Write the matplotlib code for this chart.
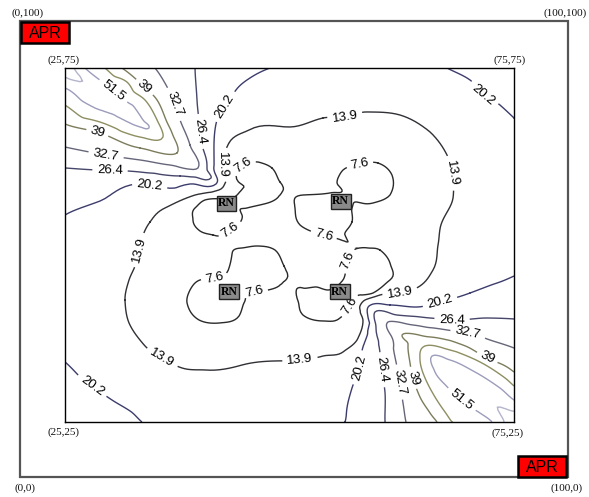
import numpy as np
import matplotlib
matplotlib.use("Agg")
import matplotlib.pyplot as plt
import matplotlib.tri as mtri
from matplotlib.patches import Rectangle

# ---------------- data (chart units, inner square 25..75) ----------------
levels = [7.6, 13.9, 20.2, 26.4, 32.7, 39.0, 45.2, 51.5, 57.8]
level_colors = ["#2a2a2a", "#303036", "#3c3c6c", "#46466a", "#66667a",
                "#7c7c5c", "#8e8e62", "#9c9cbc", "#b4b4cc"]

rn_x = [43.0, 55.7, 43.3, 55.6]
rn_y = [55.9, 56.2, 43.4, 43.4]
rn_val = [7.2, 7.2, 7.2, 7.2]

corner_x = [25.0, 75.0, 75.0, 25.0]
corner_y = [75.0, 75.0, 25.0, 25.0]
corner_val = [62.0, 23.0, 62.0, 23.0]

# points read on the contour lines
c76_x = [44.04, 45.04, 46.49, 48.05, 48.94, 48.83, 47.16, 45.27,
         42.26, 40.59, 39.48, 39.25, 40.03, 41.48, 43.37, 44.60, 44.49,
         55.85, 55.40, 55.96, 57.85, 59.86, 61.41, 61.19, 59.30, 57.52,
         54.51, 51.50, 50.61, 51.17, 52.84, 54.51, 56.18, 56.96, 56.96,
         43.26, 43.60, 44.71, 46.49, 48.39, 49.39, 48.94, 46.94, 45.38,
         41.59, 40.03, 38.92, 38.59, 39.92, 42.15, 44.38, 44.93,
         56.18, 56.63, 57.41, 58.74, 60.08, 61.19, 61.19, 59.30, 57.52,
         54.29, 52.84, 51.50, 50.95, 51.50, 53.73, 55.62, 56.74]
c76_y = [59.75, 61.44, 61.72, 60.88, 58.90, 56.92, 55.79, 55.23,
         56.50, 56.36, 55.23, 53.53, 51.98, 51.41, 51.98, 53.39, 54.94,
         57.77, 59.46, 60.59, 61.44, 61.58, 59.89, 57.06, 55.93, 56.07,
         57.35, 57.06, 55.23, 52.83, 51.70, 51.13, 51.41, 53.25, 55.23,
         46.75, 48.73, 49.58, 49.86, 49.29, 47.03, 44.35, 43.50, 43.22,
         45.34, 45.06, 43.64, 41.81, 39.41, 38.98, 39.97, 41.81,
         45.76, 48.16, 49.44, 49.58, 49.29, 47.46, 45.06, 43.22, 42.80,
         43.64, 44.07, 43.93, 42.09, 40.11, 39.27, 39.69, 41.38]

c139_x = [43.26, 45.49, 50.06, 53.73, 56.18, 58.63, 62.31, 65.65, 67.54, 68.10,
          68.21, 66.98, 66.54, 65.98, 64.53, 62.31, 59.74, 58.41, 58.18, 57.52,
          55.96, 53.73, 51.17, 48.39, 44.71, 40.59, 38.03, 35.80, 33.91, 32.13,
          31.68, 32.13, 32.80, 33.24, 33.57, 34.47, 36.14, 39.48, 42.37, 42.48]
c139_y = [64.41, 66.24, 66.67, 67.94, 68.08, 68.79, 68.36, 65.96, 62.71, 60.17,
          56.64, 53.25, 50.00, 46.47, 44.21, 43.22, 42.80, 42.23, 39.41, 36.58,
          34.89, 34.32, 33.76, 33.62, 33.05, 32.35, 32.63, 34.04, 35.74, 38.98,
          42.23, 45.06, 47.03, 49.29, 50.99, 53.25, 55.23, 57.06, 57.91, 61.30]

c202_x = [47.83, 45.60, 44.04, 43.26, 41.93, 41.59, 41.59, 41.82, 38.92, 33.35, 28.90, 25.0,
          75.0, 73.11, 70.10, 66.76, 64.20, 61.19, 58.85, 58.74, 58.18, 57.85, 56.96, 56.40, 56.18,
          67.54, 70.10, 71.55, 73.44, 75.0,
          25.0, 26.56, 28.01, 30.23, 32.24, 33.57]
c202_y = [75.0, 73.59, 71.89, 70.48, 67.66, 64.12, 60.59, 58.62, 58.62, 58.62, 56.21, 54.24,
          45.62, 44.63, 43.22, 41.95, 41.24, 41.53, 41.38, 39.83, 35.59, 32.63, 29.80, 26.98, 25.0,
          75.0, 73.31, 71.19, 69.77, 67.94,
          33.48, 31.50, 30.09, 28.11, 26.56, 25.0]

c264_x = [39.48, 39.70, 39.92, 40.26, 40.81, 41.26, 37.81, 33.35, 28.90, 25.0,
          75.0, 72.00, 68.10, 65.65, 61.97, 59.52, 59.63, 60.08, 60.30, 60.64, 60.64]
c264_y = [75.0, 70.48, 67.66, 64.12, 61.30, 59.46, 59.75, 60.31, 60.59, 60.88,
          39.55, 39.69, 39.41, 39.69, 40.11, 40.54, 38.42, 34.75, 32.35, 29.10, 25.0]

c327_x = [35.02, 36.25, 37.03, 37.81, 38.92, 39.81, 36.69, 33.35, 28.90, 25.0,
          75.0, 72.33, 69.88, 67.54, 63.75, 60.97, 61.52, 61.97, 62.31, 62.64, 62.97]
c327_y = [75.0, 72.60, 70.48, 67.66, 64.12, 60.88, 61.30, 62.01, 62.85, 63.84,
          35.45, 36.58, 37.57, 38.00, 38.70, 39.13, 36.58, 32.77, 30.65, 27.68, 25.0]

c390_x = [31.35, 33.57, 35.25, 36.25, 36.92, 37.47, 33.35, 28.90, 25.0,
          75.0, 74.22, 71.99, 69.32, 65.65, 62.53, 63.20, 63.42, 63.75, 64.53, 65.65, 66.43]
c390_y = [75.0, 72.60, 70.48, 67.66, 65.82, 62.99, 63.70, 65.82, 67.09,
          32.06, 32.77, 34.04, 35.87, 37.01, 37.29, 35.87, 33.33, 31.22, 28.53, 26.27, 25.0]

c452_x = [29.45, 31.90, 33.91, 35.25, 35.91, 33.35, 28.90, 25.0,
          75.0, 74.00, 71.21, 67.87, 65.09, 64.53, 65.09, 66.20, 67.32, 68.10]
c452_y = [75.0, 73.02, 70.48, 67.66, 65.25, 65.25, 67.37, 69.77,
          30.09, 31.22, 33.48, 35.17, 35.74, 33.76, 31.22, 28.53, 26.41, 25.0]

c515_x = [27.23, 29.45, 31.68, 33.69, 34.35, 33.35, 28.90, 25.0,
          75.0, 73.44, 70.66, 67.87, 65.87, 66.20, 67.87, 69.32, 71.21, 72.55]
c515_y = [75.0, 72.74, 70.48, 67.66, 66.53, 66.67, 69.07, 72.18,
          28.11, 29.80, 32.06, 33.76, 34.32, 32.06, 29.52, 27.83, 26.27, 25.0]

# other values read between the lines
extra_x = [51.17, 62.31, 71.21, 71.77, 28.90, 28.90, 38.92, 50.06, 45.60, 30.01, 70.10, 53.40,
           57.85, 75.0, 25.0, 44.49,
           26.11, 28.90, 31.68, 70.10, 72.88, 67.87,
           46.72, 41.82, 58.63, 53.73, 46.72, 41.70, 58.96, 53.62,
           49.72, 49.50, 49.50, 37.81, 62.31, 46.16, 53.40, 58.96, 40.59, 45.60, 52.84]
extra_y = [71.61, 72.18, 62.01, 52.12, 44.35, 37.99, 28.11, 28.81, 70.48, 52.83, 49.29, 29.52,
           75.0, 56.36, 43.64, 25.0,
           73.87, 71.47, 69.07, 30.23, 27.40, 32.06,
           58.33, 54.24, 58.76, 54.38, 46.75, 41.95, 46.19, 41.81,
           50.00, 61.30, 37.99, 49.29, 50.00, 52.40, 59.89, 52.83, 47.88, 40.11, 47.18]
extra_val = [16.5, 17.0, 17.0, 17.0, 16.5, 17.5, 16.5, 16.5, 17.0, 17.0, 17.5, 16.8,
             16.8, 16.8, 16.3, 16.3,
             59.0, 56.0, 53.5, 55.0, 57.5, 53.5,
             5.5, 5.5, 5.5, 5.5, 5.5, 5.5, 5.5, 5.5,
             9.0, 10.5, 10.5, 10.5, 10.5, 9.0, 10.0, 10.0, 10.0, 10.0, 9.0]

# contour label positions (level labels placed on lines)
label_x = [29.79, 33.57, 36.92, 39.48, 43.04, 42.71, 44.82, 28.56, 29.57, 30.01, 34.47, 43.37,
           56.18, 71.55, 68.10, 57.85, 53.73,
           33.24, 35.80, 28.01, 41.59, 46.16,
           56.40, 56.74, 62.31, 66.76, 68.10, 69.88, 71.99, 69.32, 57.85, 60.08, 62.31, 63.75, 51.17]
label_y = [70.76, 71.89, 69.77, 65.96, 69.35, 61.30, 61.30, 65.68, 62.71, 60.45, 58.76, 52.12,
           68.08, 71.19, 60.17, 61.30, 50.99,
           49.29, 34.04, 30.09, 45.62, 42.94,
           47.88, 41.38, 43.22, 41.95, 39.41, 37.57, 34.04, 28.39, 32.63, 32.35, 30.65, 31.22, 33.76]

frame_labels = ["(0,100)", "(100,100)", "(25,75)", "(75,75)",
                "(25,25)", "(75,25)", "(0,0)", "(100,0)"]
apr_label = "APR"
rn_label = "RN"

# ---------------- assemble field samples ----------------
xs, ys, zs = [], [], []
for lx, ly, lv in [(c76_x, c76_y, 7.6), (c139_x, c139_y, 13.9), (c202_x, c202_y, 20.2),
                   (c264_x, c264_y, 26.4), (c327_x, c327_y, 32.7), (c390_x, c390_y, 39.0),
                   (c452_x, c452_y, 45.2), (c515_x, c515_y, 51.5)]:
    xs += lx
    ys += ly
    zs += [lv] * len(lx)
xs += rn_x + corner_x + extra_x
ys += rn_y + corner_y + extra_y
zs += rn_val + corner_val + extra_val
xs, ys, zs = np.array(xs), np.array(ys), np.array(zs)

tri = mtri.Triangulation(xs, ys)
interp = mtri.CubicTriInterpolator(tri, zs, kind="geom")
refiner = mtri.UniformTriRefiner(tri)
tri_r, z_r = refiner.refine_field(zs, triinterpolator=interp, subdiv=3)

# ---------------- figure ----------------
W, H = 589, 497
fig = plt.figure(figsize=(W / 100, H / 100), dpi=100)
fig.patch.set_facecolor("white")

# overlay in pixel units for the frame
ax0 = fig.add_axes([0, 0, 1, 1])
ax0.set_xlim(0, W)
ax0.set_ylim(H, 0)
ax0.axis("off")
ax0.add_patch(Rectangle((20, 21), 548, 456, fill=False, ec="#555555", lw=1.6))

serif = ["Liberation Serif", "DejaVu Serif"]
pos = [(28, 13), (565, 13), (64, 60), (510, 60), (63, 432), (508, 433), (25, 488), (567, 488)]
for t, (px, py) in zip(frame_labels, pos):
    ax0.text(px, py, t, ha="center", va="center", fontsize=8, family=serif, color="#111111")

for (bx, by) in [(21, 22), (518, 456)]:
    ax0.add_patch(Rectangle((bx, by), 48, 21, fc="#ff0000", ec="black", lw=1.8, zorder=5))
    ax0.text(bx + 24, by + 11, apr_label, ha="center", va="center", fontsize=11.5,
             family=["Liberation Sans", "DejaVu Sans"], color="black", zorder=6)

# inner contour axes
ax = fig.add_axes([65 / W, (H - 422) / H, 449 / W, 354 / H])
ax.set_xlim(25, 75)
ax.set_ylim(25, 75)
ax.set_xticks([])
ax.set_yticks([])
for s in ax.spines.values():
    s.set_color("black")
    s.set_linewidth(1.0)

cs = ax.tricontour(tri_r, z_r, levels=levels, colors=level_colors, linewidths=1.0)
lbls = ax.clabel(cs, manual=list(zip(label_x, label_y)), inline=True, fmt="%g",
                 fontsize=9.5, colors="black", inline_spacing=3)
for t in lbls:
    t.set_family(["Liberation Sans", "DejaVu Sans"])

for x, y in zip(rn_x, rn_y):
    ax.text(x, y, rn_label, ha="center", va="center", fontsize=8.5, family=serif,
            fontweight="bold", color="black", zorder=10,
            bbox=dict(boxstyle="square,pad=0.12", fc="#8a8a8a", ec="#222222", lw=1.0))

fig.savefig("out.png", dpi=100)
